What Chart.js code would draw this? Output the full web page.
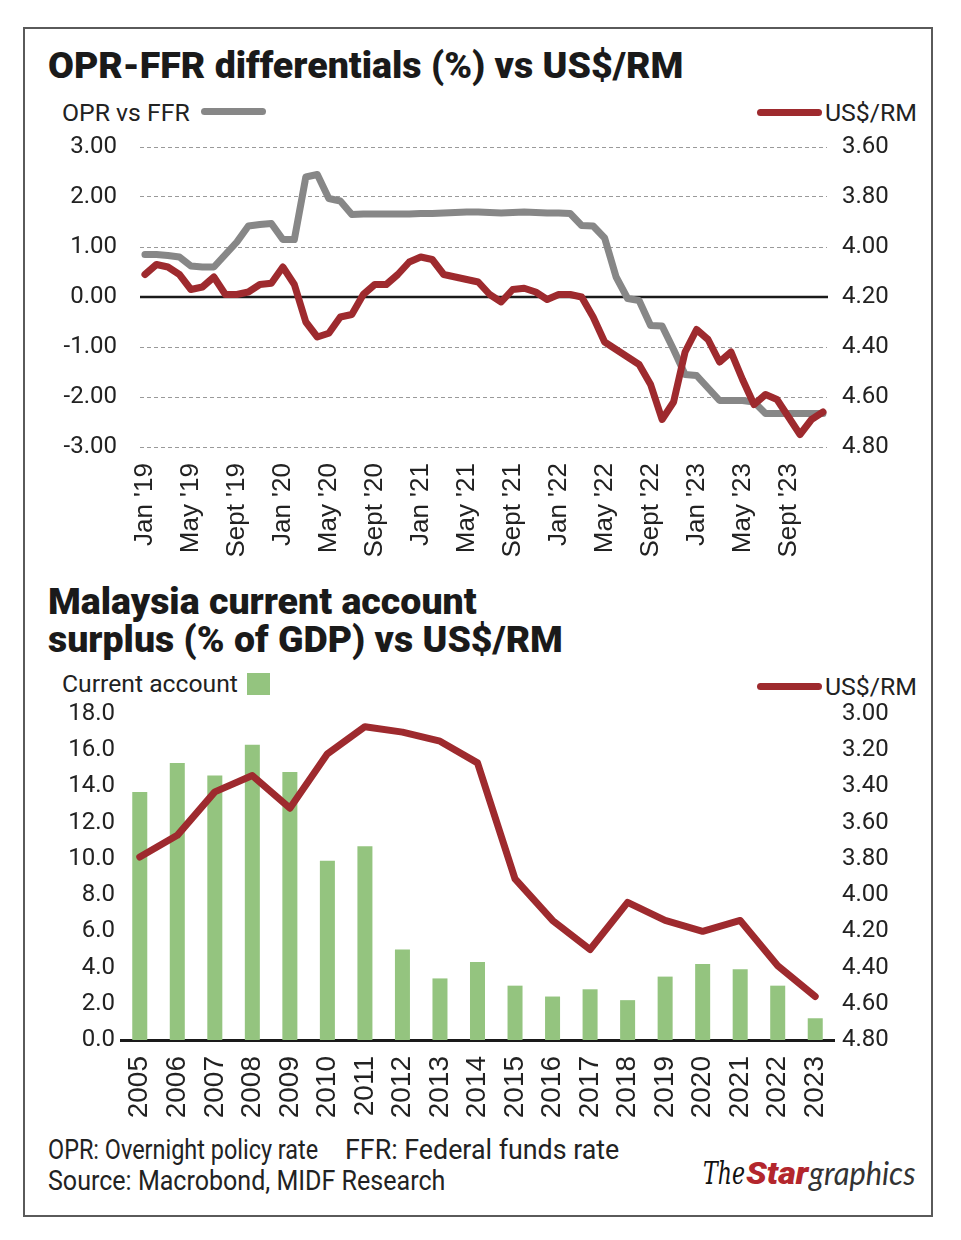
<!DOCTYPE html>
<html>
<head>
<meta charset="utf-8">
<script src="https://cdn.jsdelivr.net/npm/chart.js@4.4.1/dist/chart.umd.min.js"></script>
<style>
  body { margin: 0; background: #fff; width: 961px; height: 1240px; position: relative; overflow: hidden; font-family: Roboto, sans-serif; color: #222; }
  .frame { position: absolute; left: 23px; top: 27px; width: 906px; height: 1186px; border: 2px solid #5a5a5a; }
  .t { position: absolute; white-space: nowrap; line-height: 1; transform-origin: 0 0; }
  .swatch { position: absolute; }
  canvas { position: absolute; left: 0; }
</style>
</head>
<body>
<div class="frame"></div>
<canvas id="rateChart" width="961" height="440" style="top:132px"></canvas>
<canvas id="caChart" width="961" height="430" style="top:702px"></canvas>
<div class="swatch" style="left:201px;top:108px;width:65px;height:7px;border-radius:4px;background:#878787"></div>
<div class="swatch" style="left:757px;top:109px;width:65px;height:7px;border-radius:4px;background:#9e2a2e"></div>
<div class="swatch" style="left:247px;top:673px;width:23px;height:22px;background:#94c47f"></div>
<div class="swatch" style="left:757px;top:683px;width:65px;height:7px;border-radius:4px;background:#9e2a2e"></div>

<script>
// top chart: monthly, Jan 2019 - Dec 2023
const tickLabels = ["Jan '19", "May '19", "Sept '19", "Jan '20", "May '20", "Sept '20", "Jan '21", "May '21",
                    "Sept '21", "Jan '22", "May '22", "Sept '22", "Jan '23", "May '23", "Sept '23"];
const tickEvery = 4; // months between labels

const oprFfr = [0.85, 0.85, 0.83, 0.80, 0.62, 0.60, 0.60, 0.85, 1.10, 1.42,
                1.45, 1.47, 1.15, 1.15, 2.40, 2.45, 1.97, 1.92, 1.65, 1.66,
                1.66, 1.66, 1.66, 1.66, 1.67, 1.67, 1.68, 1.69, 1.70, 1.70,
                1.69, 1.68, 1.69, 1.70, 1.69, 1.68, 1.68, 1.67, 1.43, 1.42,
                1.18, 0.40, -0.03, -0.07, -0.57, -0.58, -1.05, -1.55, -1.57, -1.82,
                -2.07, -2.07, -2.07, -2.10, -2.33, -2.33, -2.33, -2.33, -2.33, -2.33];

const usdMyrMonthly = [4.11, 4.07, 4.08, 4.11, 4.17, 4.16, 4.12, 4.19, 4.19, 4.18,
                       4.15, 4.145, 4.08, 4.15, 4.30, 4.36, 4.345, 4.28, 4.27, 4.19,
                       4.15, 4.15, 4.11, 4.06, 4.04, 4.05, 4.11, 4.12, 4.13, 4.14,
                       4.19, 4.22, 4.17, 4.165, 4.18, 4.21, 4.19, 4.19, 4.20, 4.28,
                       4.38, 4.41, 4.44, 4.47, 4.55, 4.69, 4.62, 4.42, 4.33, 4.37,
                       4.46, 4.42, 4.53, 4.63, 4.59, 4.61, 4.68, 4.75, 4.69, 4.66];

// bottom chart: annual
const years = ['2005', '2006', '2007', '2008', '2009', '2010', '2011', '2012', '2013', '2014',
               '2015', '2016', '2017', '2018', '2019', '2020', '2021', '2022', '2023'];
const currentAccount = [13.7, 15.3, 14.6, 16.3, 14.8, 9.9, 10.7, 5.0, 3.4, 4.3,
                        3.0, 2.4, 2.8, 2.2, 3.5, 4.2, 3.9, 3.0, 1.2];
const usdMyrAnnual = [3.79, 3.67, 3.43, 3.34, 3.52, 3.22, 3.07, 3.10, 3.15, 3.27,
                      3.91, 4.14, 4.30, 4.04, 4.14, 4.20, 4.14, 4.39, 4.56];

const GREY = '#878787';
const RED = '#9e2a2e';
const GREEN = '#94c47f';
const INK = '#222';

// html text, placed by baseline and stretched to the measured width
const texts = [];
function addText(str, x, base, size, width, opts = {}) {
    const el = document.createElement('div');
    el.className = 't';
    el.textContent = str;
    el.style.left = x + 'px';
    el.style.top = (base - 0.84 * size) + 'px';
    el.style.fontSize = size + 'px';
    el.style.fontFamily = opts.family || 'Roboto';
    el.style.fontWeight = opts.weight || 400;
    el.style.fontStyle = opts.style || 'normal';
    el.style.color = opts.color || INK;
    document.body.appendChild(el);
    texts.push([el, width]);
}

addText('OPR-FFR differentials (%) vs US$/RM', 48, 78, 36, 635, { weight: 900, color: '#1a1a1a' });
addText('OPR vs FFR', 62, 121, 24, 128);
addText('US$/RM', 825, 121, 24, 92);
addText('Malaysia current account', 48, 614, 36, 429, { weight: 900, color: '#1a1a1a' });
addText('surplus (% of GDP) vs US$/RM', 48, 652, 36, 515, { weight: 900, color: '#1a1a1a' });
addText('Current account', 62, 692, 24, 176);
addText('US$/RM', 825, 695, 24, 92);
addText('OPR: Overnight policy rate', 48, 1160, 27, 270);
addText('FFR: Federal funds rate', 345, 1160, 27, 274);
addText('Source: Macrobond, MIDF Research', 48, 1191, 27, 397);
addText('The', 703, 1184, 32, 42, { family: 'DejaVu Serif', style: 'italic', color: '#111' });
addText('Star', 746, 1184, 32, 62, { weight: 900, style: 'italic', color: '#b3262d' });
addText('graphics', 809, 1184, 32, 106, { family: 'Lato', style: 'italic', color: '#333' });

function fitTexts() {
    texts.forEach(([el, w]) => {
        el.style.transform = 'scaleX(' + (w / el.offsetWidth) + ')';
    });
}
document.fonts.ready.then(fitTexts);
fitTexts();

const tickFont = { family: 'Roboto', size: 24 };

// y axes: fixed width, no extra top/bottom padding so the plot area sits where we want it
function fixWidth(w) {
    return (scale) => {
        scale.width = w;
        scale.paddingTop = 0;
        scale.paddingBottom = 0;
    };
}

// solid black line at 0 on the differential axis
const zeroLine = {
    id: 'zeroLine',
    beforeDatasetsDraw(chart) {
        const { ctx, chartArea, scales } = chart;
        const y = scales.y.getPixelForValue(0);
        ctx.save();
        ctx.strokeStyle = '#1a1a1a';
        ctx.lineWidth = 2.5;
        ctx.beginPath();
        ctx.moveTo(chartArea.left, y);
        ctx.lineTo(chartArea.right + 1, y);
        ctx.stroke();
        ctx.restore();
    }
};

const tickIdx = tickLabels.map((_, i) => i * tickEvery);

new Chart(document.getElementById('rateChart'), {
    type: 'line',
    data: {
        datasets: [
            {
                label: 'US$/RM',
                data: usdMyrMonthly.map((v, i) => ({ x: i, y: v })),
                yAxisID: 'y1',
                borderColor: RED,
                borderWidth: 7,
                pointRadius: 0,
                borderJoinStyle: 'round',
                borderCapStyle: 'round',
                order: 0
            },
            {
                label: 'OPR vs FFR',
                data: oprFfr.map((v, i) => ({ x: i, y: v })),
                yAxisID: 'y',
                borderColor: GREY,
                borderWidth: 7,
                pointRadius: 0,
                borderJoinStyle: 'round',
                borderCapStyle: 'round',
                order: 1
            }
        ]
    },
    options: {
        responsive: false,
        animation: false,
        devicePixelRatio: 1,
        layout: { padding: { top: 15, left: 0, right: 0, bottom: 0 } },
        plugins: { legend: { display: false }, tooltip: { enabled: false } },
        scales: {
            x: {
                type: 'linear',
                min: -0.43,
                max: 59.35,
                afterBuildTicks: (scale) => { scale.ticks = tickIdx.map(v => ({ value: v })); },
                afterFit: (scale) => { scale.height = 125; },
                grid: { display: false },
                border: { display: false },
                ticks: {
                    autoSkip: false,
                    maxRotation: 90,
                    minRotation: 90,
                    padding: 8,
                    color: INK,
                    font: { family: 'Liberation Sans', size: 26 },
                    callback: (v) => tickLabels[tickIdx.indexOf(v)]
                }
            },
            y: {
                position: 'left',
                min: -3,
                max: 3,
                afterFit: fixWidth(140),
                grid: {
                    drawTicks: false,
                    lineWidth: 1,
                    color: (ctx) => ctx.tick && ctx.tick.value === 0 ? 'rgba(0,0,0,0)' : '#9a9a9a'
                },
                border: { display: false, dash: [4, 3] },
                ticks: {
                    stepSize: 1,
                    padding: 23,
                    color: INK,
                    font: tickFont,
                    callback: (v) => v.toFixed(2)
                }
            },
            y1: {
                position: 'right',
                min: 3.6,
                max: 4.8,
                reverse: true,
                afterFit: fixWidth(134),
                grid: { display: false, drawTicks: false },
                border: { display: false },
                ticks: {
                    stepSize: 0.2,
                    padding: 15,
                    color: INK,
                    font: tickFont,
                    callback: (v) => v.toFixed(2)
                }
            }
        }
    },
    plugins: [zeroLine]
});

new Chart(document.getElementById('caChart'), {
    type: 'bar',
    data: {
        labels: years,
        datasets: [
            {
                type: 'line',
                label: 'US$/RM',
                data: usdMyrAnnual,
                yAxisID: 'y1',
                borderColor: RED,
                borderWidth: 7,
                pointRadius: 0,
                borderJoinStyle: 'round',
                borderCapStyle: 'round',
                order: 0
            },
            {
                label: 'Current account',
                data: currentAccount,
                yAxisID: 'y',
                backgroundColor: GREEN,
                barPercentage: 0.4,
                categoryPercentage: 1.0,
                order: 1
            }
        ]
    },
    options: {
        responsive: false,
        animation: false,
        devicePixelRatio: 1,
        layout: { padding: { top: 12, left: 0, right: 0, bottom: 0 } },
        plugins: { legend: { display: false }, tooltip: { enabled: false } },
        scales: {
            x: {
                afterFit: (scale) => { scale.height = 92; },
                grid: { display: false },
                border: { display: true, color: '#1a1a1a', width: 3 },
                ticks: {
                    autoSkip: false,
                    maxRotation: 90,
                    minRotation: 90,
                    padding: 8,
                    color: INK,
                    font: { family: 'Liberation Sans', size: 28 }
                }
            },
            y: {
                position: 'left',
                min: 0,
                max: 18,
                afterFit: fixWidth(121),
                grid: { display: false, drawTicks: false },
                border: { display: false },
                ticks: {
                    stepSize: 2,
                    padding: 6,
                    color: INK,
                    font: tickFont,
                    callback: (v) => v.toFixed(1)
                }
            },
            y1: {
                position: 'right',
                min: 3,
                max: 4.8,
                reverse: true,
                afterFit: fixWidth(127),
                grid: { display: false, drawTicks: false },
                border: { display: false },
                ticks: {
                    stepSize: 0.2,
                    padding: 8,
                    color: INK,
                    font: tickFont,
                    callback: (v) => v.toFixed(2)
                }
            }
        }
    }
});
</script>
</body>
</html>
